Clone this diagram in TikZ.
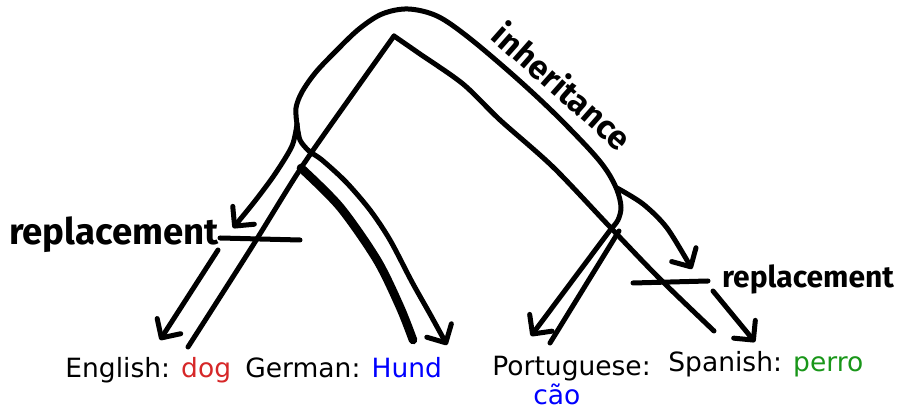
\documentclass[tikz,border=0pt]{standalone}
\usepackage{fontspec}
\setmainfont{DejaVu Sans}
\newfontfamily\handfont{Fira Sans}
\usetikzlibrary{arrows.meta}
\definecolor{dogred}{RGB}{214,39,40}
\definecolor{hundblue}{RGB}{0,0,255}
\definecolor{perrogreen}{RGB}{25,150,25}

\begin{document}
\begin{tikzpicture}[
  x=0.5pt, y=-0.5pt,
  stroke/.style={line width=2.5pt, line cap=round, line join=round},
  thickstroke/.style={stroke, line width=4.3pt},
  arrow/.style={stroke, -{Straight Barb[length=7pt,width=14pt,round]}},
  lang/.style={inner sep=0pt, font=\fontsize{13.25}{15.9}\selectfont},
  hand/.style={inner sep=0pt, font=\handfont\bfseries\fontsize{#1}{#1}\selectfont},
]
\useasboundingbox (0,0) rectangle (900,410);

\coordinate (apex) at (394,36);
\coordinate (lfork) at (297,124);
\coordinate (rfork) at (611,229);
\coordinate (sfork) at (617,188);
\coordinate (gfork) at (301,168);
\coordinate (enStart) at (218,250);
\coordinate (enEnd) at (160,340);
\coordinate (enLine) at (188,347);
\coordinate (deLine) at (413,340);
\coordinate (deEnd) at (447,345);
\coordinate (ptEnd) at (531,336);
\coordinate (ptStart) at (619,231);
\coordinate (ptLine) at (550,343);
\coordinate (esLine) at (714,331);
\coordinate (esStart) at (713,291);
\coordinate (esEnd) at (755,342);
\coordinate (replEnd) at (233,228);
\coordinate (upEnd) at (692,269);

\draw[stroke] plot[smooth, tension=0.55] coordinates {(lfork) (296,108) (302,92)
  (316,72) (337,50) (359,29) (382,14) (408,9) (437,16) (468,37) (513,75)
  (553,112) (590,150) (607,171) (617,190) (621,207) (618,220) (rfork)};
\draw[stroke] plot[smooth] coordinates {(apex) (352,95) (gfork) (250,250) (enLine)};
\draw[stroke] plot[smooth] coordinates {(apex) (420,54) (463,84) (500,120)
  (553,167) (610,227) (660,279) (esLine)};
\draw[thickstroke] plot[smooth] coordinates {(gfork) (340,207) (377,260) (400,307) (deLine)};

\draw[arrow] plot[smooth] coordinates {(lfork) (300,140) (309,151) (322,160)
  (346,182) (370,210) (390,240) (412,282) (430,314) (deEnd)};
\draw[arrow] plot[smooth] coordinates {(lfork) (292,146) (275,174) (255,201) (replEnd)};
\draw[arrow] (enStart) -- (enEnd);
\draw[arrow] (rfork) -- (ptEnd);
\draw[stroke] (ptStart) -- (ptLine);
\draw[arrow] plot[smooth] coordinates {(sfork) (643,204) (667,228) (upEnd)};
\draw[arrow] (esStart) -- (esEnd);

\node[hand=18.3, anchor=base] (replL) at (114,245) {replacement};
\node[hand=15, anchor=base] (replR) at (808,288) {replacement};
\node[hand=16.6, rotate=-41.5] (inher) at (563,86) {inheritance};
\coordinate (crossL) at (220,238);
\coordinate (crossR) at (708,281);
\draw[stroke] (crossL) -- (300,240);
\draw[stroke] (633,283) -- (crossR);

\node[lang, anchor=base west] (en) at (65,378) {English: \textcolor{dogred}{dog}};
\node[lang, anchor=base west] (de) at (245,378) {German: \textcolor{hundblue}{Hund}};
\node[lang, anchor=base west] (pt) at (492,376) {Portuguese:};
\node[lang, anchor=base west, text=hundblue] (ptword) at (533,405) {cão};
\node[lang, anchor=base west] (es) at (668,372) {Spanish: \textcolor{perrogreen}{perro}};
\end{tikzpicture}
\end{document}
